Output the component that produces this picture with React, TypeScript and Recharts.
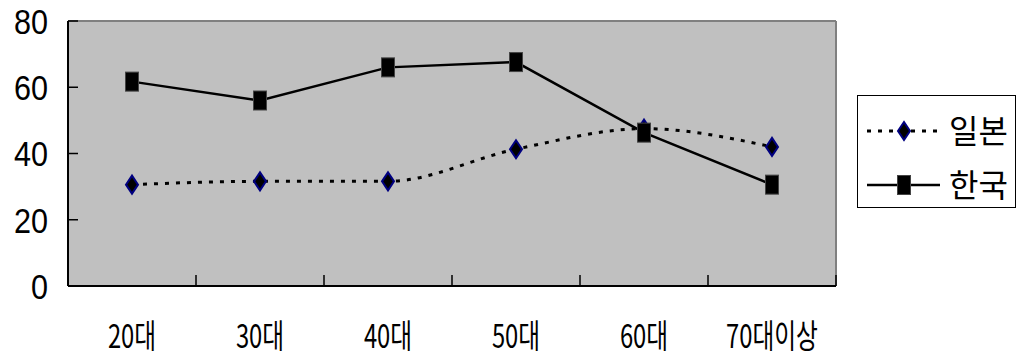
import {CartesianGrid, Legend, Line, LineChart, ReferenceLine, XAxis, YAxis} from 'recharts';

const AGES = ['20대', '30대', '40대', '50대', '60대', '70대이상'];
const JAPAN = [30.6, 31.6, 31.6, 41.3, 47.5, 42];
const KOREA = [61.7, 56, 66, 67.6, 46.3, 30.6];
const Y_TICKS = [0, 20, 40, 60, 80];
const SERIES_NAMES = {japan: '일본', korea: '한국'};

const FONT = '"Noto Sans CJK KR", sans-serif';
const DIGIT_FONT = '"Liberation Sans", Arial, sans-serif';
const X_LABEL_GAP = 50;
const Y_LABEL_GAP = 20;
const TICK_LEN = 10;

const chartData = AGES.map((age, i) => ({age, japan: JAPAN[i], korea: KOREA[i]}));

function Diamond({cx, cy}: any) {
    if (cx == null || cy == null) return null;
    return (
        <path d={`M${cx},${cy - 9} L${cx + 6},${cy} L${cx},${cy + 9} L${cx - 6},${cy} Z`}
              fill="#000" stroke="#000080" strokeWidth={2}/>
    );
}

function Square({cx, cy}: any) {
    if (cx == null || cy == null) return null;
    return <rect x={cx - 6.5} y={cy - 9.5} width={13} height={19} fill="#000" stroke="#444" strokeWidth={1}/>;
}

// category label plus an inward tick mark on each band boundary
function AgeTick({x, y, payload, index, visibleTicksCount}: any) {
    const half = payload?.offset ?? 0;
    const axisY = y - X_LABEL_GAP;
    const isLast = index === (visibleTicksCount ?? AGES.length) - 1;
    return (
        <g>
            <line x1={x - half} y1={axisY} x2={x - half} y2={axisY - TICK_LEN - 1} stroke="#000" strokeWidth={1.5}/>
            {isLast && (
                <line x1={x + half} y1={axisY} x2={x + half} y2={axisY - TICK_LEN - 1} stroke="#000" strokeWidth={1.5}/>
            )}
            <text transform={`translate(${x},${y}) scale(0.72,1)`} textAnchor="middle" dy="0.36em"
                  fontFamily={FONT} fontSize={33} fill="#000">{payload.value}</text>
        </g>
    );
}

function ValueTick({x, y, payload}: any) {
    const axisX = x + Y_LABEL_GAP;
    return (
        <g>
            <line x1={axisX} y1={y} x2={axisX + TICK_LEN} y2={y} stroke="#000" strokeWidth={1.5}/>
            <text transform={`translate(${x},${y}) scale(0.85,1)`} textAnchor="end" dy="0.36em"
                  fontFamily={DIGIT_FONT} fontSize={36} fill="#000">{payload.value}</text>
        </g>
    );
}

function renderLegend() {
    return (
        <div style={{width: 159, height: 113, border: '1px solid #000', boxSizing: 'border-box', background: '#fff'}}>
            <svg width={157} height={111}>
                <line x1={9} y1={35} x2={82} y2={35} stroke="#000" strokeWidth={3} strokeDasharray="4 7"/>
                <Diamond cx={46} cy={35}/>
                <text x={91} y={35} dy="0.36em" fontFamily={FONT} fontSize={32} fill="#000">{SERIES_NAMES.japan}</text>
                <line x1={9} y1={89} x2={82} y2={89} stroke="#000" strokeWidth={2.5}/>
                <Square cx={46} cy={89}/>
                <text x={91} y={89} dy="0.36em" fontFamily={FONT} fontSize={32} fill="#000">{SERIES_NAMES.korea}</text>
            </svg>
        </div>
    );
}

export default function App() {
    return (
        <div style={{position: 'absolute', left: 0, top: 0, background: '#fff'}}>
            <LineChart width={1018} height={356} data={chartData} margin={{top: 21, right: 182, bottom: 0, left: 0}}>
                <CartesianGrid fill="#C0C0C0" horizontal={false} vertical={false}/>
                <XAxis dataKey="age" scale="band" height={70} tickLine={false}
                       axisLine={{stroke: '#000', strokeWidth: 2}} tickSize={0} tickMargin={X_LABEL_GAP}
                       tick={<AgeTick/>} interval={0}/>
                <YAxis domain={[0, 80]} ticks={Y_TICKS} width={68} tickSize={0} tickMargin={Y_LABEL_GAP}
                       tickLine={false} axisLine={{stroke: '#000', strokeWidth: 2}} tick={<ValueTick/>}/>
                <ReferenceLine y={80} stroke="#808080" strokeWidth={2}/>
                <ReferenceLine x={AGES[AGES.length - 1]} position="end" stroke="#808080" strokeWidth={2}/>
                <Legend layout="vertical" align="center" verticalAlign="middle" content={renderLegend}
                        wrapperStyle={{position: 'absolute', left: 857, top: 95, width: 159, height: 113}}/>
                <Line type="monotone" dataKey="japan" name={SERIES_NAMES.japan} stroke="#000" strokeWidth={3}
                      strokeDasharray="4 7" dot={<Diamond/>} activeDot={false} isAnimationActive={false}/>
                <Line type="linear" dataKey="korea" name={SERIES_NAMES.korea} stroke="#000" strokeWidth={2.5}
                      dot={<Square/>} activeDot={false} isAnimationActive={false}/>
            </LineChart>
        </div>
    );
}
